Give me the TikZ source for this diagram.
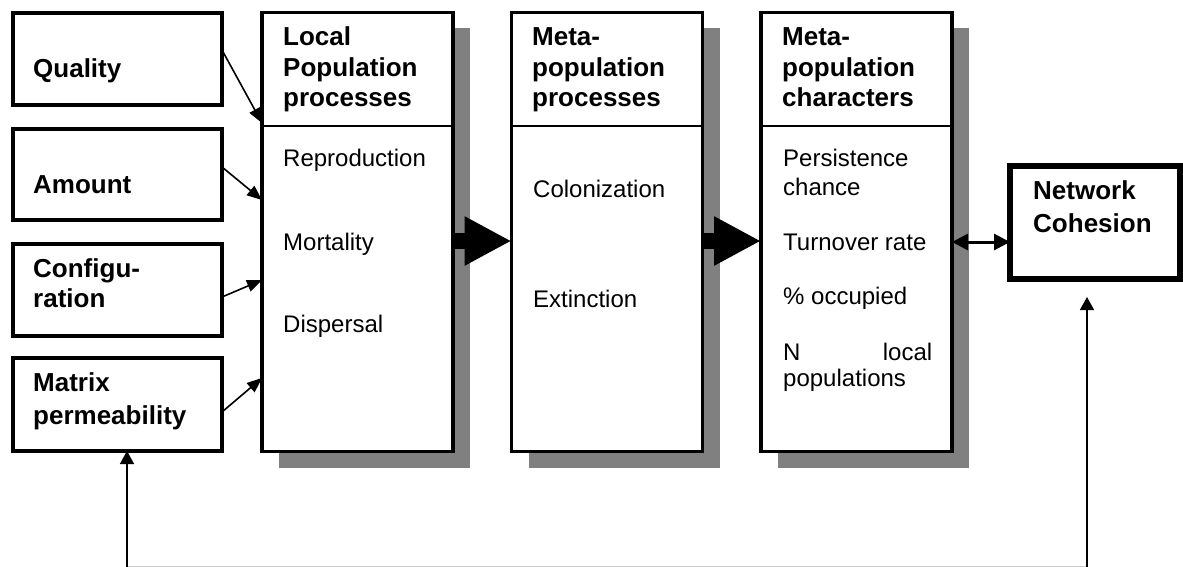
\documentclass[tikz,border=0pt]{standalone}
\usepackage{fontspec}
\setmainfont{Liberation Sans}
\usetikzlibrary{arrows.meta,shadows,calc}
\begin{document}
\begin{tikzpicture}[x=1pt,y=-1pt,
  inbox/.style={draw,line width=4pt,minimum width=209pt,inner sep=0pt,outer sep=0pt},
  col/.style={draw,fill=white,line width=3.5pt,minimum width=191pt,minimum height=439pt,inner sep=0pt,outer sep=0pt,
    drop shadow={shadow xshift=17pt,shadow yshift=-16pt,fill=black!50,opacity=1}},
  netbox/.style={draw,line width=6pt,minimum width=170pt,minimum height=113pt,inner sep=0pt,outer sep=0pt},
  ttl/.style={anchor=base west,inner sep=0pt,font=\fontsize{26}{30}\selectfont\bfseries},
  txt/.style={anchor=base west,inner sep=0pt,font=\fontsize{24}{28}\selectfont},
  divider/.style={line width=1.8pt},
  sarr/.style={line width=1.6pt,-{Triangle[length=15pt,width=12pt]}},
  bigarr/.style={line width=16pt,-{Triangle[length=47pt,width=46pt]}},
  dblarr/.style={line width=3pt,{Triangle[length=16pt,width=16pt]}-{Triangle[length=16pt,width=16pt]}},
  varr/.style={line width=1.5pt,-{Triangle[length=13pt,width=14pt]}},
  baseline/.style={line width=1pt,black!20}
]
\useasboundingbox (0,0) rectangle (1183,567);

% left boxes
\node[inbox,minimum height=92pt] (q) at (117.5,59) {};
\node[inbox,minimum height=91pt] (a) at (117.5,174.5) {};
\node[inbox,minimum height=92pt] (cf) at (117.5,290) {};
\node[inbox,minimum height=93pt] (m) at (117.5,404.5) {};
\node[ttl] (tq) at (33,78) {Quality};
\node[ttl] (ta) at (33,193) {Amount};
\node[ttl] (tc1) at (33,277) {Configu-};
\node[ttl] (tc2) at (33,307) {ration};
\node[ttl] (tm1) at (33,391) {Matrix};
\node[ttl] (tm2) at (33,424) {permeability};

% columns
\node[col] (c1) at (357.5,232) {};
\node[col] (c2) at (607,232) {};
\node[col] (c3) at (856.5,232) {};
\foreach \c in {c1,c2,c3}{
  \draw[divider] ($(\c.north west)+(0,113.5)$) -- ($(\c.north east)+(0,113.5)$);
}

% column 1 text
\node[ttl] (h11) at (283,46) {Local};
\node[ttl] (h12) at (283,77) {Population};
\node[ttl] (h13) at (283,107) {processes};
\node[txt] (b11) at (283,167) {Reproduction};
\node[txt] (b12) at (283,250) {Mortality};
\node[txt] (b13) at (283,332) {Dispersal};

% column 2 text
\node[ttl] (h21) at (532,46) {Meta-};
\node[ttl] (h22) at (532,77) {population};
\node[ttl] (h23) at (532,107) {processes};
\node[txt] (b21) at (533,197) {Colonization};
\node[txt] (b22) at (533,307) {Extinction};

% column 3 text
\node[ttl] (h31) at (782,46) {Meta-};
\node[ttl] (h32) at (782,77) {population};
\node[ttl] (h33) at (782,107) {characters};
\node[txt] (b31) at (783,167) {Persistence};
\node[txt] (b32) at (783,195) {chance};
\node[txt] (b33) at (783,250) {Turnover rate};
\node[txt] (b34) at (783,304) {\% occupied};
\node[txt] (b35) at (783,360) {\makebox[149pt][s]{N local}};
\node[txt] (b36) at (783,386) {populations};

% network cohesion
\node[netbox] (nc) at (1095,222.5) {};
\node[ttl] (tn1) at (1033,199) {Network};
\node[ttl] (tn2) at (1033,232) {Cohesion};

% small arrows into column 1
\draw[sarr] ([yshift=9pt]q.east) -- ([yshift=109pt]c1.west);
\draw[sarr] ([yshift=7.5pt]a.east) -- ([yshift=32pt]c1.west);
\draw[sarr] ([yshift=-7pt]cf.east) -- ([yshift=-48pt]c1.west);
\draw[sarr] ([yshift=-7.5pt]m.east) -- ([yshift=-146pt]c1.west);

% big arrows
\draw[bigarr] ([yshift=-9pt]c1.east) -- ([yshift=-9pt]c2.west);
\draw[bigarr] ([yshift=-9pt]c2.east) -- ([yshift=-9pt]c3.west);

% double arrow
\draw[dblarr] ([yshift=-10pt]c3.east) -- ([yshift=-19.5pt]nc.west);

% feedback loop
\coordinate (bl) at (127,566);
\coordinate (br) at (1087,566);
\coordinate (bl0) at (127,567);
\coordinate (br0) at (1087,567);
\coordinate (rt) at ([yshift=-18pt]nc.south);
\draw[baseline] (bl) -- (br);
\draw[varr] (bl0) -- (bl0 |- m.south);
\draw[varr] (br0) -- (br0 |- rt);
\end{tikzpicture}
\end{document}
